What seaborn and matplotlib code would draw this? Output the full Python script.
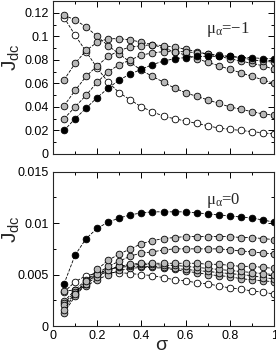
import numpy as np
import seaborn as sns
import matplotlib
matplotlib.use("Agg")
import matplotlib.pyplot as plt
from matplotlib.ticker import MultipleLocator, FuncFormatter

# noise strength
sigma = [0.05, 0.1, 0.15, 0.2, 0.25, 0.3, 0.35, 0.4, 0.45, 0.5,
         0.55, 0.6, 0.65, 0.7, 0.75, 0.8, 0.85, 0.9, 0.95, 1.0]

# top panel, mu_alpha = -1
top_black = [0.020, 0.030, 0.039, 0.048, 0.056, 0.063, 0.068, 0.072, 0.076, 0.079,
             0.081, 0.082, 0.083, 0.083, 0.083, 0.083, 0.082, 0.082, 0.081, 0.081]
top_gray1 = [0.030, 0.040, 0.050, 0.061, 0.070, 0.076, 0.080, 0.084, 0.086, 0.087,
             0.087, 0.087, 0.086, 0.085, 0.084, 0.083, 0.082, 0.080, 0.079, 0.078]
top_gray2 = [0.041, 0.054, 0.066, 0.075, 0.083, 0.088, 0.091, 0.092, 0.093, 0.092,
             0.091, 0.089, 0.087, 0.085, 0.083, 0.081, 0.079, 0.077, 0.075, 0.072]
top_gray3 = [0.063, 0.077, 0.088, 0.095, 0.098, 0.098, 0.097, 0.095, 0.093, 0.090,
             0.087, 0.084, 0.081, 0.078, 0.075, 0.072, 0.069, 0.066, 0.063, 0.060]
top_gray4 = [0.118, 0.114, 0.108, 0.100, 0.092, 0.085, 0.078, 0.071, 0.066, 0.061,
             0.056, 0.052, 0.049, 0.046, 0.043, 0.040, 0.038, 0.036, 0.034, 0.033]
top_white = [0.116, 0.101, 0.087, 0.073, 0.061, 0.052, 0.046, 0.040, 0.036, 0.032,
             0.030, 0.028, 0.026, 0.024, 0.022, 0.021, 0.020, 0.019, 0.018, 0.017]

# bottom panel, mu_alpha = 0
bot_black = [0.0041, 0.0069, 0.0085, 0.0095, 0.0101, 0.0105, 0.0108, 0.0110, 0.0111, 0.0111,
             0.0111, 0.0111, 0.0110, 0.0109, 0.0108, 0.0107, 0.0106, 0.0105, 0.0103, 0.0101]
bot_gray1 = [0.0016, 0.0031, 0.0044, 0.0055, 0.0064, 0.0070, 0.0075, 0.0080, 0.0083, 0.0085,
             0.0086, 0.0087, 0.0087, 0.0087, 0.0087, 0.0087, 0.0086, 0.0086, 0.0085, 0.0084]
bot_gray2 = [0.0013, 0.0029, 0.0041, 0.0051, 0.0058, 0.0063, 0.0068, 0.0071, 0.0072, 0.0074,
             0.0075, 0.0075, 0.0075, 0.0075, 0.0075, 0.0074, 0.0073, 0.0072, 0.0071, 0.0070]
bot_gray3 = [0.0020, 0.0031, 0.0041, 0.0048, 0.0054, 0.0058, 0.0060, 0.0061, 0.0061, 0.0061,
             0.0061, 0.0061, 0.0061, 0.0060, 0.0060, 0.0059, 0.0058, 0.0058, 0.0057, 0.0056]
bot_gray4 = [0.0022, 0.0033, 0.0043, 0.0050, 0.0055, 0.0058, 0.0059, 0.0060, 0.0060, 0.0059,
             0.0059, 0.0058, 0.0057, 0.0056, 0.0055, 0.0054, 0.0053, 0.0052, 0.0051, 0.0050]
bot_gray5 = [0.0024, 0.0035, 0.0045, 0.0051, 0.0055, 0.0057, 0.0058, 0.0058, 0.0058, 0.0057,
             0.0056, 0.0055, 0.0054, 0.0053, 0.0052, 0.0051, 0.0050, 0.0049, 0.0047, 0.0046]
bot_gray6 = [0.0034, 0.0035, 0.0039, 0.0045, 0.0050, 0.0054, 0.0056, 0.0057, 0.0057, 0.0056,
             0.0055, 0.0053, 0.0052, 0.0050, 0.0049, 0.0048, 0.0046, 0.0045, 0.0044, 0.0043]
bot_white = [0.0033, 0.0043, 0.0049, 0.0051, 0.0052, 0.0052, 0.0051, 0.0050, 0.0049, 0.0047,
             0.0045, 0.0044, 0.0042, 0.0041, 0.0039, 0.0037, 0.0036, 0.0034, 0.0033, 0.0031]

gray = "#b8b8b8"
top_series = [(top_white, "white"), (top_gray4, gray), (top_gray3, gray),
              (top_gray2, gray), (top_gray1, gray), (top_black, "black")]
bot_series = [(bot_white, "white"), (bot_gray6, gray), (bot_gray5, gray), (bot_gray4, gray),
              (bot_gray3, gray), (bot_gray2, gray), (bot_gray1, gray), (bot_black, "black")]

sns.set_style("ticks")
plt.rcParams["font.family"] = ["Liberation Sans", "DejaVu Sans"]
plt.rcParams["mathtext.fontset"] = "custom"
plt.rcParams["mathtext.rm"] = "Liberation Serif"
plt.rcParams["mathtext.it"] = "Liberation Serif:italic"
plt.rcParams["mathtext.sf"] = "Liberation Sans"

fig = plt.figure(figsize=(2.76, 3.54), dpi=100)
ax1 = fig.add_axes([0.192, 0.565, 0.801, 0.432])
ax2 = fig.add_axes([0.192, 0.079, 0.801, 0.436])


def draw(ax, series):
    for vals, fc in series:
        sns.lineplot(x=sigma, y=vals, ax=ax, color="black", linestyle="--", lw=0.6,
                     marker="o", markersize=4.8, markerfacecolor=fc,
                     markeredgecolor="black", markeredgewidth=0.6)


def style(ax, ymax, ymajor, yminor):
    ax.set_xlim(0, 1)
    ax.set_ylim(0, ymax)
    ax.xaxis.set_major_locator(MultipleLocator(0.2))
    ax.xaxis.set_minor_locator(MultipleLocator(0.1))
    ax.yaxis.set_major_locator(MultipleLocator(ymajor))
    ax.yaxis.set_minor_locator(MultipleLocator(yminor))
    ax.tick_params(which="both", direction="in", top=True, right=True, labelsize=9,
                   width=0.7, colors="black", pad=3)
    ax.tick_params(which="major", length=4.5)
    ax.tick_params(which="minor", length=2.5)
    ax.yaxis.set_major_formatter(FuncFormatter(lambda v, p: "%g" % round(v, 6)))
    ax.xaxis.set_major_formatter(FuncFormatter(lambda v, p: "%g" % round(v, 6)))
    for s in ax.spines.values():
        s.set_linewidth(0.8)
    ax.set_ylabel(r"$\mathsf{J_{dc}}$", fontsize=15)
    ax.yaxis.set_label_coords(-0.14, 0.63)


draw(ax1, top_series)
draw(ax2, bot_series)
style(ax1, 0.13, 0.02, 0.01)
style(ax2, 0.015, 0.005, 0.0025)
ax1.tick_params(labelbottom=False)
ax1.set_xlabel("")
ax2.set_xlabel("σ", fontsize=14, va="baseline")
ax2.xaxis.set_label_coords(0.49, -0.155)

ax1.text(0.69, 0.79, r"$\mathrm{\mu_\alpha}$=−1", transform=ax1.transAxes, fontsize=12,
         family="Liberation Serif")
ax2.text(0.69, 0.79, r"$\mathrm{\mu_\alpha}$=0", transform=ax2.transAxes, fontsize=12,
         family="Liberation Serif")

fig.savefig("out.png", dpi=100)
